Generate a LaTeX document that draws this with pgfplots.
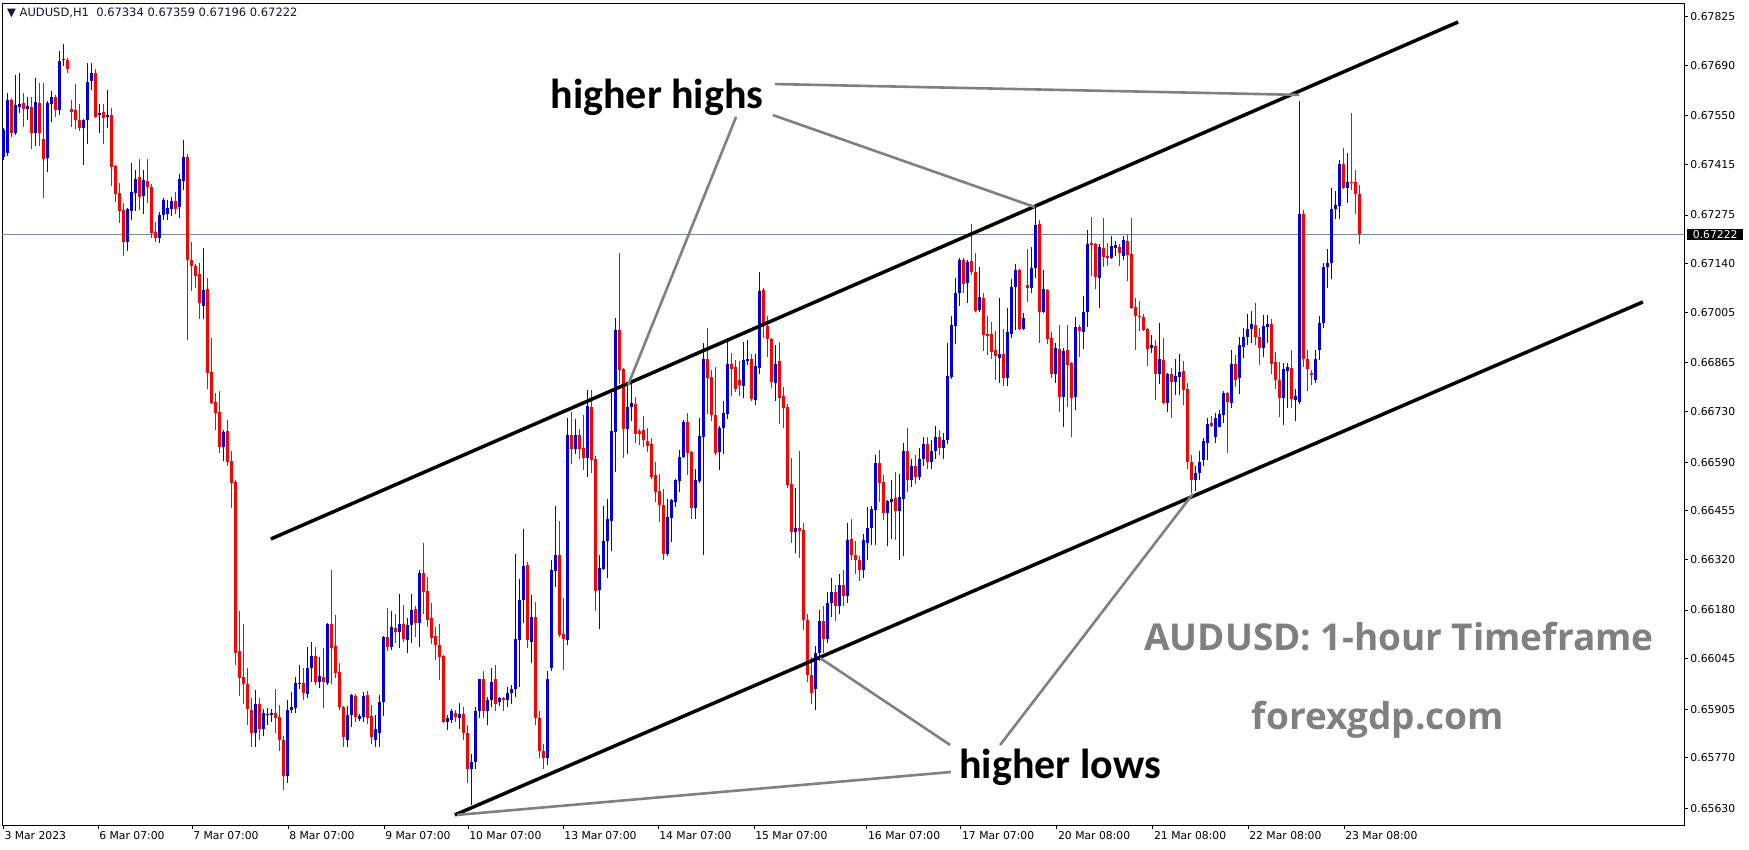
\documentclass[border=0pt]{standalone}
\usepackage{fontspec}
\setmainfont{DejaVu Sans}
\newfontfamily\annfont{Carlito}
\newfontfamily\wmfont{Open Sans}
\usepackage{pgfplots}
\pgfplotsset{compat=1.18}
\usepackage{pgfplotstable}
\usetikzlibrary{calc}
\definecolor{cbull}{RGB}{0,0,220}
\definecolor{cbear}{RGB}{255,0,0}
\definecolor{bidline}{RGB}{119,136,153}
\definecolor{anngray}{RGB}{128,128,128}
\definecolor{titlecol}{RGB}{20,20,60}

% hourly AUDUSD candles, columns: open high low close
\pgfplotstableread{
o h l c
0.67437 0.67515 0.67428 0.67511
0.67448 0.67612 0.67439 0.67594
0.67594 0.67599 0.67490 0.67503
0.67501 0.67663 0.67497 0.67580
0.67575 0.67668 0.67559 0.67583
0.67586 0.67613 0.67519 0.67570
0.67570 0.67601 0.67537 0.67577
0.67575 0.67602 0.67457 0.67501
0.67501 0.67655 0.67466 0.67588
0.67586 0.67641 0.67465 0.67503
0.67486 0.67641 0.67323 0.67429
0.67434 0.67590 0.67393 0.67586
0.67584 0.67619 0.67533 0.67602
0.67602 0.67607 0.67548 0.67567
0.67567 0.67730 0.67553 0.67702
0.67706 0.67749 0.67689 0.67707
0.67706 0.67709 0.67669 0.67680
0.67569 0.67595 0.67519 0.67561
0.67566 0.67638 0.67513 0.67537
0.67537 0.67583 0.67509 0.67515
0.67515 0.67542 0.67415 0.67539
0.67537 0.67695 0.67473 0.67644
0.67647 0.67697 0.67622 0.67669
0.67669 0.67680 0.67545 0.67548
0.67551 0.67583 0.67503 0.67558
0.67561 0.67583 0.67473 0.67545
0.67548 0.67622 0.67515 0.67552
0.67552 0.67572 0.67356 0.67409
0.67412 0.67415 0.67312 0.67334
0.67337 0.67365 0.67254 0.67287
0.67290 0.67309 0.67162 0.67201
0.67201 0.67295 0.67176 0.67293
0.67287 0.67420 0.67262 0.67340
0.67337 0.67401 0.67287 0.67376
0.67379 0.67431 0.67290 0.67326
0.67329 0.67401 0.67279 0.67373
0.67370 0.67431 0.67309 0.67354
0.67354 0.67362 0.67210 0.67226
0.67229 0.67257 0.67201 0.67210
0.67212 0.67284 0.67197 0.67276
0.67275 0.67322 0.67262 0.67317
0.67279 0.67317 0.67262 0.67295
0.67292 0.67325 0.67271 0.67313
0.67313 0.67338 0.67278 0.67292
0.67296 0.67389 0.67267 0.67375
0.67370 0.67483 0.67344 0.67436
0.67436 0.67444 0.66928 0.67149
0.67149 0.67201 0.67065 0.67135
0.67135 0.67139 0.67073 0.67106
0.67112 0.67142 0.66988 0.67030
0.67024 0.67184 0.66988 0.67067
0.67070 0.67101 0.66793 0.66838
0.66840 0.66935 0.66750 0.66754
0.66757 0.66782 0.66678 0.66727
0.66729 0.66787 0.66615 0.66631
0.66631 0.66680 0.66593 0.66674
0.66677 0.66707 0.66580 0.66590
0.66593 0.66621 0.66464 0.66533
0.66535 0.66540 0.66027 0.66062
0.66067 0.66178 0.65943 0.65992
0.65995 0.66142 0.65919 0.65974
0.65976 0.66020 0.65860 0.65905
0.65903 0.65937 0.65800 0.65840
0.65840 0.65959 0.65800 0.65919
0.65919 0.65935 0.65820 0.65850
0.65850 0.65905 0.65830 0.65895
0.65890 0.65908 0.65860 0.65892
0.65890 0.65906 0.65870 0.65894
0.65894 0.65961 0.65840 0.65882
0.65884 0.65918 0.65790 0.65820
0.65820 0.65830 0.65681 0.65720
0.65720 0.65931 0.65700 0.65903
0.65903 0.65953 0.65895 0.65912
0.65908 0.65995 0.65895 0.65979
0.65976 0.66027 0.65961 0.65979
0.65979 0.66020 0.65930 0.65949
0.65946 0.66078 0.65937 0.66020
0.66019 0.66091 0.65980 0.66052
0.66052 0.66077 0.65972 0.65980
0.65980 0.66050 0.65964 0.65997
0.65994 0.66075 0.65908 0.65980
0.65978 0.66145 0.65972 0.66141
0.66141 0.66292 0.65976 0.66076
0.66080 0.66166 0.65991 0.66006
0.66008 0.66033 0.65903 0.65911
0.65911 0.65915 0.65801 0.65829
0.65820 0.65914 0.65801 0.65889
0.65889 0.65947 0.65856 0.65944
0.65942 0.65947 0.65870 0.65883
0.65878 0.65892 0.65872 0.65886
0.65883 0.65953 0.65870 0.65942
0.65944 0.65955 0.65864 0.65881
0.65886 0.65917 0.65810 0.65829
0.65820 0.65889 0.65801 0.65850
0.65838 0.65944 0.65800 0.65925
0.65925 0.66109 0.65886 0.66106
0.66106 0.66186 0.66066 0.66077
0.66077 0.66178 0.66069 0.66134
0.66131 0.66170 0.66088 0.66119
0.66119 0.66224 0.66075 0.66142
0.66142 0.66195 0.66091 0.66100
0.66097 0.66159 0.66061 0.66139
0.66139 0.66225 0.66088 0.66181
0.66184 0.66192 0.66105 0.66145
0.66145 0.66292 0.66077 0.66283
0.66283 0.66367 0.66168 0.66231
0.66234 0.66272 0.66134 0.66153
0.66159 0.66200 0.66086 0.66102
0.66109 0.66134 0.66042 0.66083
0.66083 0.66142 0.65987 0.66050
0.66053 0.66056 0.65866 0.65870
0.65870 0.65890 0.65847 0.65881
0.65876 0.65906 0.65868 0.65901
0.65895 0.65904 0.65870 0.65884
0.65882 0.65923 0.65850 0.65892
0.65892 0.65910 0.65820 0.65840
0.65840 0.65860 0.65700 0.65740
0.65740 0.65780 0.65640 0.65760
0.65760 0.65910 0.65740 0.65900
0.65900 0.65990 0.65880 0.65988
0.65988 0.66011 0.65880 0.65900
0.65900 0.65940 0.65860 0.65930
0.65930 0.66019 0.65910 0.65980
0.65988 0.66027 0.65900 0.65920
0.65925 0.65940 0.65915 0.65935
0.65935 0.65940 0.65900 0.65930
0.65930 0.65967 0.65910 0.65950
0.65950 0.65972 0.65920 0.65960
0.65960 0.66335 0.65940 0.66100
0.66097 0.66266 0.65967 0.66208
0.66208 0.66404 0.66143 0.66302
0.66305 0.66314 0.66076 0.66097
0.66092 0.66222 0.66034 0.66161
0.66161 0.66203 0.65860 0.65880
0.65880 0.65900 0.65770 0.65790
0.65790 0.65810 0.65740 0.65770
0.65770 0.66010 0.65750 0.65990
0.66018 0.66319 0.66010 0.66291
0.66289 0.66469 0.66245 0.66332
0.66332 0.66427 0.66104 0.66111
0.66113 0.66214 0.66014 0.66099
0.66097 0.66712 0.66083 0.66665
0.66665 0.66729 0.66586 0.66627
0.66627 0.66709 0.66613 0.66665
0.66665 0.66682 0.66599 0.66627
0.66629 0.66720 0.66569 0.66602
0.66602 0.66790 0.66550 0.66745
0.66743 0.66790 0.66561 0.66597
0.66599 0.66607 0.66178 0.66233
0.66235 0.66332 0.66128 0.66296
0.66294 0.66469 0.66291 0.66371
0.66372 0.66488 0.66270 0.66432
0.66426 0.66781 0.66343 0.66676
0.66673 0.66989 0.66562 0.66957
0.66957 0.67169 0.66806 0.66845
0.66848 0.66850 0.66601 0.66681
0.66681 0.66806 0.66612 0.66742
0.66742 0.66806 0.66704 0.66753
0.66751 0.66770 0.66643 0.66668
0.66676 0.66681 0.66637 0.66668
0.66679 0.66717 0.66631 0.66651
0.66648 0.66684 0.66618 0.66634
0.66640 0.66656 0.66543 0.66548
0.66554 0.66590 0.66479 0.66507
0.66510 0.66557 0.66424 0.66471
0.66471 0.66515 0.66318 0.66335
0.66335 0.66487 0.66329 0.66437
0.66435 0.66487 0.66368 0.66485
0.66479 0.66543 0.66465 0.66540
0.66537 0.66623 0.66507 0.66604
0.66604 0.66706 0.66601 0.66701
0.66701 0.66726 0.66554 0.66615
0.66618 0.66622 0.66432 0.66462
0.66462 0.66570 0.66432 0.66540
0.66537 0.66712 0.66532 0.66662
0.66659 0.66920 0.66332 0.66875
0.66875 0.66961 0.66723 0.66823
0.66826 0.66845 0.66704 0.66720
0.66720 0.66853 0.66610 0.66615
0.66618 0.66690 0.66568 0.66684
0.66684 0.66759 0.66612 0.66726
0.66723 0.66934 0.66709 0.66862
0.66862 0.66892 0.66773 0.66848
0.66853 0.66873 0.66784 0.66792
0.66817 0.66870 0.66773 0.66803
0.66801 0.66923 0.66767 0.66873
0.66870 0.66928 0.66859 0.66875
0.66875 0.66889 0.66760 0.66765
0.66762 0.66889 0.66748 0.66856
0.66850 0.67117 0.66834 0.67064
0.67067 0.67072 0.66934 0.66973
0.66967 0.66995 0.66881 0.66931
0.66931 0.66934 0.66795 0.66812
0.66809 0.66915 0.66759 0.66862
0.66870 0.66923 0.66696 0.66768
0.66773 0.66798 0.66684 0.66740
0.66743 0.66751 0.66518 0.66526
0.66529 0.66601 0.66366 0.66396
0.66396 0.66518 0.66338 0.66407
0.66407 0.66621 0.66324 0.66399
0.66402 0.66420 0.66125 0.66152
0.66152 0.66170 0.65980 0.66000
0.66000 0.66050 0.65920 0.65950
0.65960 0.66080 0.65903 0.66060
0.66060 0.66180 0.66040 0.66150
0.66150 0.66190 0.66060 0.66100
0.66100 0.66230 0.66090 0.66200
0.66200 0.66270 0.66160 0.66230
0.66230 0.66250 0.66150 0.66190
0.66190 0.66280 0.66170 0.66250
0.66250 0.66290 0.66190 0.66220
0.66220 0.66421 0.66200 0.66374
0.66377 0.66432 0.66318 0.66332
0.66332 0.66371 0.66280 0.66320
0.66320 0.66330 0.66260 0.66290
0.66290 0.66390 0.66270 0.66374
0.66366 0.66465 0.66318 0.66407
0.66407 0.66468 0.66360 0.66460
0.66457 0.66610 0.66360 0.66587
0.66587 0.66623 0.66479 0.66532
0.66535 0.66554 0.66429 0.66449
0.66449 0.66485 0.66357 0.66482
0.66479 0.66540 0.66377 0.66488
0.66490 0.66562 0.66374 0.66454
0.66454 0.66557 0.66318 0.66493
0.66488 0.66643 0.66330 0.66621
0.66621 0.66684 0.66507 0.66540
0.66540 0.66600 0.66520 0.66580
0.66580 0.66610 0.66530 0.66550
0.66550 0.66630 0.66540 0.66600
0.66600 0.66660 0.66580 0.66640
0.66640 0.66660 0.66570 0.66590
0.66590 0.66650 0.66570 0.66620
0.66620 0.66690 0.66600 0.66660
0.66660 0.66680 0.66610 0.66630
0.66630 0.66670 0.66600 0.66650
0.66650 0.66920 0.66640 0.66829
0.66826 0.66995 0.66820 0.66970
0.66967 0.67100 0.66917 0.67059
0.67059 0.67156 0.67023 0.67150
0.67150 0.67156 0.67059 0.67084
0.67086 0.67150 0.67031 0.67145
0.67147 0.67251 0.67110 0.67117
0.67117 0.67170 0.67006 0.67009
0.67012 0.67131 0.67006 0.67048
0.67045 0.67059 0.66898 0.66942
0.66945 0.66995 0.66887 0.66940
0.66945 0.66978 0.66876 0.66895
0.66901 0.66953 0.66818 0.66884
0.66879 0.67045 0.66810 0.66890
0.66890 0.66959 0.66800 0.66823
0.66823 0.67017 0.66800 0.66951
0.66945 0.67098 0.66934 0.67075
0.67075 0.67139 0.66956 0.67122
0.67122 0.67125 0.66956 0.66959
0.66959 0.67003 0.66956 0.66989
0.67081 0.67181 0.67034 0.67073
0.67073 0.67186 0.67059 0.67128
0.67128 0.67300 0.67100 0.67247
0.67250 0.67261 0.66920 0.67006
0.67006 0.67122 0.67003 0.67070
0.67067 0.67070 0.66917 0.66931
0.66934 0.66951 0.66823 0.66834
0.66834 0.66920 0.66808 0.66906
0.66904 0.66970 0.66729 0.66771
0.66771 0.66905 0.66687 0.66898
0.66901 0.66970 0.66743 0.66859
0.66865 0.66868 0.66660 0.66768
0.66771 0.66992 0.66735 0.66965
0.66965 0.66970 0.66881 0.66954
0.66951 0.67051 0.66904 0.67006
0.67006 0.67234 0.66965 0.67195
0.67197 0.67270 0.67106 0.67192
0.67195 0.67197 0.67070 0.67103
0.67100 0.67195 0.67017 0.67186
0.67184 0.67267 0.67131 0.67159
0.67161 0.67197 0.67134 0.67156
0.67156 0.67217 0.67153 0.67189
0.67184 0.67203 0.67161 0.67192
0.67186 0.67195 0.67134 0.67170
0.67161 0.67217 0.67150 0.67206
0.67203 0.67220 0.67092 0.67164
0.67167 0.67267 0.67014 0.67017
0.67020 0.67045 0.66901 0.66995
0.66995 0.67037 0.66954 0.66992
0.66992 0.67000 0.66954 0.66956
0.66959 0.66962 0.66857 0.66904
0.66906 0.66942 0.66893 0.66915
0.66912 0.66929 0.66762 0.66834
0.66834 0.66976 0.66807 0.66876
0.66873 0.66934 0.66750 0.66754
0.66754 0.66837 0.66729 0.66834
0.66834 0.66851 0.66712 0.66812
0.66812 0.66876 0.66776 0.66829
0.66826 0.66890 0.66776 0.66840
0.66843 0.66870 0.66748 0.66790
0.66793 0.66810 0.66570 0.66590
0.66590 0.66610 0.66505 0.66540
0.66540 0.66580 0.66510 0.66560
0.66560 0.66620 0.66540 0.66590
0.66596 0.66657 0.66580 0.66648
0.66643 0.66712 0.66596 0.66695
0.66699 0.66718 0.66686 0.66690
0.66661 0.66725 0.66644 0.66713
0.66688 0.66734 0.66686 0.66723
0.66722 0.66787 0.66699 0.66782
0.66782 0.66785 0.66614 0.66758
0.66755 0.66902 0.66741 0.66862
0.66862 0.66886 0.66797 0.66819
0.66822 0.66936 0.66780 0.66914
0.66910 0.66962 0.66880 0.66938
0.66937 0.67000 0.66914 0.66960
0.66960 0.67010 0.66919 0.66973
0.66970 0.67032 0.66914 0.66937
0.66937 0.66961 0.66859 0.66907
0.66907 0.66998 0.66882 0.66967
0.66965 0.66998 0.66919 0.66973
0.66973 0.66988 0.66834 0.66862
0.66868 0.66896 0.66792 0.66819
0.66819 0.66868 0.66714 0.66767
0.66767 0.66864 0.66693 0.66847
0.66843 0.66865 0.66739 0.66854
0.66850 0.66901 0.66739 0.66764
0.66762 0.66792 0.66705 0.66773
0.66757 0.67591 0.66750 0.67278
0.67278 0.67290 0.66853 0.66875
0.66875 0.66901 0.66788 0.66847
0.66836 0.66845 0.66804 0.66831
0.66819 0.66902 0.66808 0.66875
0.66902 0.66995 0.66873 0.66975
0.66975 0.67143 0.66961 0.67132
0.67130 0.67182 0.67074 0.67143
0.67141 0.67351 0.67099 0.67293
0.67293 0.67342 0.67263 0.67303
0.67300 0.67427 0.67263 0.67416
0.67416 0.67462 0.67346 0.67349
0.67351 0.67448 0.67307 0.67366
0.67366 0.67558 0.67344 0.67364
0.67366 0.67400 0.67279 0.67333
0.67334 0.67359 0.67196 0.67222
}\candles

\pgfplotsset{
  bull/.style={color=cbull, restrict expr to domain={\thisrow{c}-\thisrow{o}}{0:1}},
  bear/.style={color=cbear, restrict expr to domain={\thisrow{o}-\thisrow{c}}{0.000001:1}},
}
% image pixel (x,y from top-left) relative to the axis corner O
\newcommand{\img}[2]{($(O)+({#1-2.2},{825.3-#2})$)}

\begin{document}
\begin{tikzpicture}[x=1pt,y=1pt]
\begin{axis}[
  name=ax,
  scale only axis, width=1682.1pt, height=822pt,
  xmin=-0.275, xmax=420.25,
  ymin=0.655833, ymax=0.678619,
  axis line style={line width=1pt},
  tick align=outside, major tick length=4pt,
  tick style={black, line width=1pt},
  xtick pos=left, ytick pos=right, yticklabel pos=right,
  xtick={0,23.7,47.2,71.2,95.2,116.2,140,163.7,187.7,215.9,239.4,263.4,287.4,311.2,335.2},
  xticklabels={3 Mar 2023,6 Mar 07:00,7 Mar 07:00,8 Mar 07:00,9 Mar 07:00,10 Mar 07:00,13 Mar 07:00,14 Mar 07:00,15 Mar 07:00,16 Mar 07:00,17 Mar 07:00,20 Mar 08:00,21 Mar 08:00,22 Mar 08:00,23 Mar 08:00},
  ytick={0.67825,0.67690,0.67550,0.67415,0.67275,0.67140,0.67005,0.66865,0.66730,0.66590,0.66455,0.66320,0.66180,0.66045,0.65905,0.65770,0.65630},
  yticklabels={0.67825,0.67690,0.67550,0.67415,0.67275,0.67140,0.67005,0.66865,0.66730,0.66590,0.66455,0.66320,0.66180,0.66045,0.65905,0.65770,0.65630},
  ticklabel style={font=\fontsize{10.8}{12}\selectfont},
  xticklabel style={anchor=north west, inner sep=0pt, xshift=1pt, yshift=-2pt},
  yticklabel style={anchor=west, inner sep=0pt, xshift=2pt},
]
\coordinate (O) at (rel axis cs:0,0);
% bid line
\addplot[bidline, line width=1pt, forget plot] coordinates {(-1,0.67222) (421,0.67222)};

% candles: wicks (1px) and bodies (3px) as vertical segments
\addplot[bull, mark=none, line width=1pt, quiver={u=0, v=\thisrow{h}-\thisrow{l}}]
  table[x expr=\coordindex, y=l] {\candles};
\addplot[bull, mark=none, line width=3pt, quiver={u=0, v=\thisrow{c}-\thisrow{o}}]
  table[x expr=\coordindex, y=o] {\candles};
\addplot[bear, mark=none, line width=1pt, quiver={u=0, v=\thisrow{h}-\thisrow{l}}]
  table[x expr=\coordindex, y=l] {\candles};
\addplot[bear, mark=none, line width=3pt, quiver={u=0, v=\thisrow{o}-\thisrow{c}}]
  table[x expr=\coordindex, y=c] {\candles};

% channel
\addplot[black, line width=3.5pt, forget plot] coordinates {(66.9,0.66377) (363.7,0.67810)};
\addplot[black, line width=3.5pt, forget plot] coordinates {(112.9,0.65612) (409.9,0.67034)};

% pointer lines
\addplot[anngray, line width=2.6pt, forget plot] coordinates {(183.2,0.67547) (156.2,0.66804)};
\addplot[anngray, line width=2.6pt, forget plot] coordinates {(192.4,0.67552) (257.9,0.67297)};
\addplot[anngray, line width=2.6pt, forget plot] coordinates {(192.9,0.67638) (324,0.67608)};
\addplot[anngray, line width=2.6pt, forget plot] coordinates {(236.7,0.65806) (204.2,0.66047)};
\addplot[anngray, line width=2.6pt, forget plot] coordinates {(249.2,0.65806) (297.4,0.66502)};
\addplot[anngray, line width=2.6pt, forget plot] coordinates {(236.9,0.65731) (113.4,0.65612)};
\end{axis}

\useasboundingbox \img{0}{0} rectangle \img{1749}{850};

% current price box
\fill[black] \img{1686.5}{228.6} rectangle \img{1743}{240.2};
\node[anchor=west, inner sep=0pt, text=white, font=\fontsize{10.8}{12}\selectfont] at \img{1692.7}{234.4} {0.67222};

% header
\node[anchor=west, inner sep=0pt, text=titlecol, font=\fontsize{11.5}{13}\selectfont] at \img{7}{13.4} {▼ AUDUSD,H1\ \ 0.67334 0.67359 0.67196 0.67222};

% annotations
\node[font={\fontsize{42}{46}\selectfont\annfont\bfseries}] at \img{657}{97} {higher highs};
\node[font={\fontsize{42}{46}\selectfont\annfont\bfseries}] at \img{1060}{767} {higher lows};
\node[text=anngray, font={\fontsize{37}{40}\selectfont\wmfont\bfseries}] at \img{1399}{637} {AUDUSD: 1-hour Timeframe};
\node[text=anngray, font={\fontsize{37}{40}\selectfont\wmfont\bfseries}] at \img{1378}{720} {forexgdp.com};
\end{tikzpicture}
\end{document}
